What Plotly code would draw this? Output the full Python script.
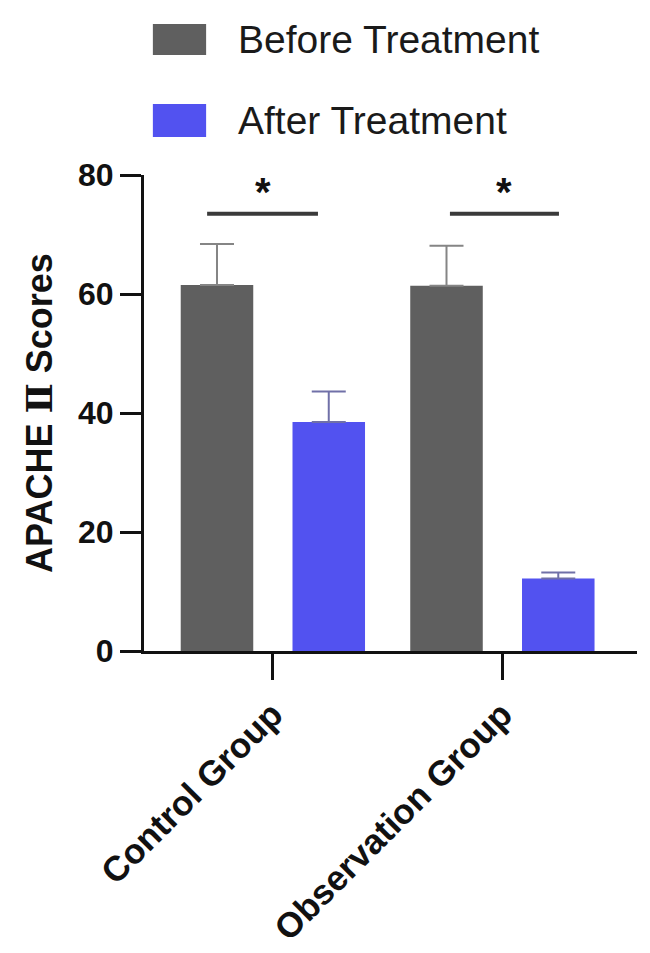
import plotly.graph_objects as go

# ---- data ----
categories = ["Control Group", "Observation Group"]
before_mean = [61.5, 61.4]
before_err = [6.9, 6.7]
after_mean = [38.5, 12.2]
after_err = [5.1, 1.0]
series_names = ["Before Treatment", "After Treatment"]
y_ticks = [0, 20, 40, 60, 80]
sig_y = 73.5
sig_x0 = [-0.285, -0.227]   # offsets from each category centre
sig_x1 = [0.198, 0.248]
sig_label = "*"

GRAY = "#5f5f5f"
BLUE = "#5252f0"
FONT = "Liberation Sans, Arial, Helvetica, sans-serif"

fig = go.Figure()
fig.add_trace(go.Bar(
    x=categories, y=before_mean, name=series_names[0],
    marker=dict(color=GRAY, line=dict(width=0)),
    width=0.316, offset=-0.4,
    error_y=dict(type="data", array=before_err, arrayminus=[0, 0], symmetric=False,
                 color="#858585", thickness=2, width=17),
    showlegend=False,
))
fig.add_trace(go.Bar(
    x=categories, y=after_mean, name=series_names[1],
    marker=dict(color=BLUE, line=dict(width=0)),
    width=0.316, offset=0.087,
    error_y=dict(type="data", array=after_err, arrayminus=[0, 0], symmetric=False,
                 color="#7070a8", thickness=2, width=17),
    showlegend=False,
))

# significance lines and stars
for i in range(len(categories)):
    fig.add_shape(type="line", xref="x", yref="y", x0=i + sig_x0[i], x1=i + sig_x1[i],
                  y0=sig_y, y1=sig_y, line=dict(color="#3a3a3a", width=4))
    fig.add_annotation(x=i + (sig_x0[i] + sig_x1[i]) / 2, y=sig_y, xref="x", yref="y",
                       text=sig_label, showarrow=False, yshift=22,
                       font=dict(family=FONT, size=40, color="#111111", weight="bold"))

# manual legend
legend_rows = [(series_names[0], GRAY, 1.317, 1.252), (series_names[1], BLUE, 1.149, 1.080)]
for name, col, ytop, ybot in legend_rows:
    fig.add_shape(type="rect", xref="paper", yref="paper", x0=0.018, x1=0.126,
                  y0=ybot, y1=ytop, fillcolor=col, line=dict(width=0))
    fig.add_annotation(x=0.187, y=(ytop + ybot) / 2, xref="paper", yref="paper",
                       text=name, showarrow=False, xanchor="left", yanchor="middle",
                       font=dict(family=FONT, size=39, color="#1a1a1a"))

# page body has an 8px margin, so the figure is 8px smaller and shifted
fig.update_layout(
    width=642, height=945,
    margin=dict(l=136, r=13, t=167, b=301.5, autoexpand=False),
    paper_bgcolor="white", plot_bgcolor="white",
    barmode="overlay",
    showlegend=False,
    font=dict(family=FONT, color="#111111"),
)
fig.update_yaxes(
    range=[0, 80], tickvals=y_ticks, ticks="outside", ticklen=21, tickwidth=3,
    tickcolor="#111111", showline=True, linewidth=3, linecolor="#111111",
    showgrid=False, zeroline=False, automargin=False,
    tickfont=dict(family=FONT, size=32, color="#111111", weight="bold"),
    title=dict(text="APACHE <span style=\"font-family:'DejaVu Serif'\">Ⅱ</span> Scores",
               standoff=15,
               font=dict(family=FONT, size=36, color="#111111", weight="bold")),
)
fig.update_xaxes(
    type="category", range=[-0.56, 1.588], ticks="outside", ticklen=26, tickwidth=3,
    tickcolor="#111111", showline=True, linewidth=3, linecolor="#111111",
    showgrid=False, zeroline=False, tickangle=-45, automargin=False,
    tickfont=dict(family=FONT, size=35, color="#111111", weight="bold"),
)

fig.write_html("out.html")
